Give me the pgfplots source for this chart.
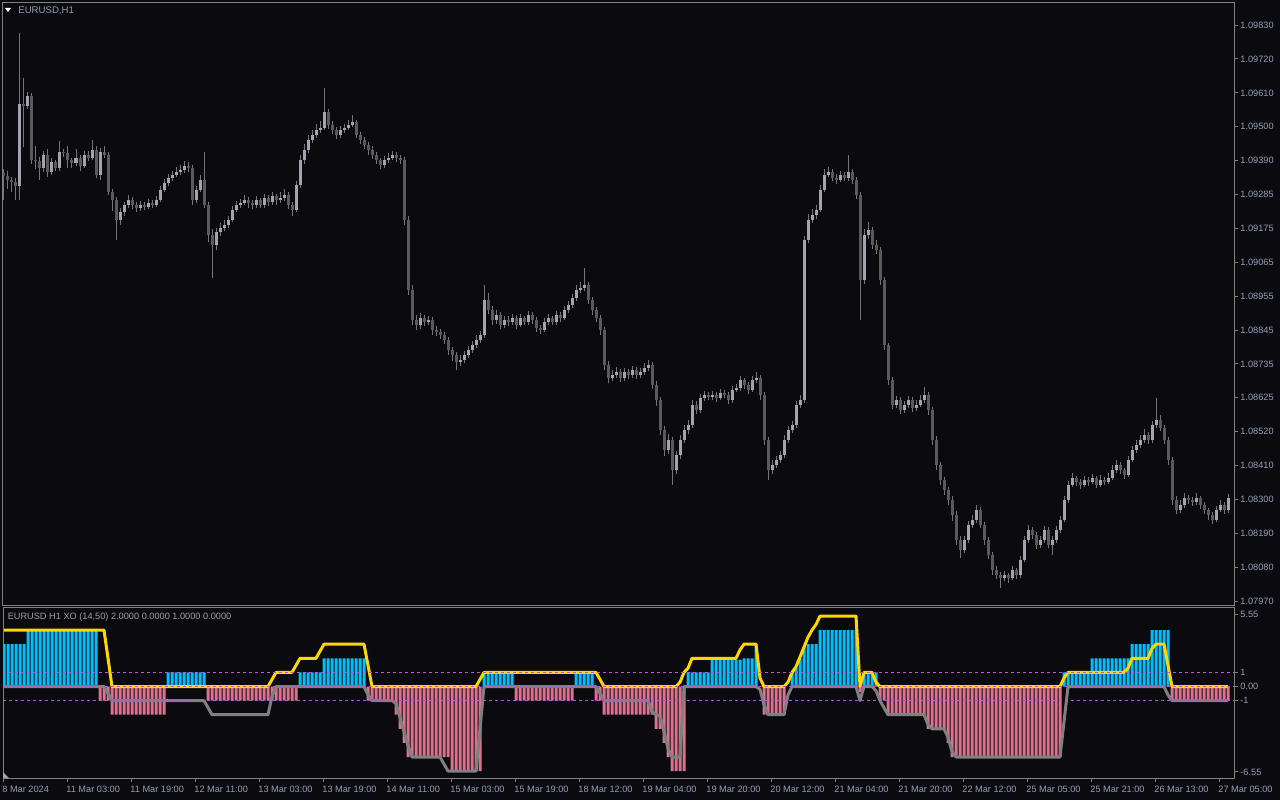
\documentclass[border=0pt]{standalone}
\usepackage{fontspec}
\setmainfont{Liberation Sans}
\usepackage{pgfplots}
\usepackage{pgfplotstable}
\pgfplotsset{compat=1.18}
\definecolor{bg}{HTML}{0A0A0F}
\definecolor{fr}{HTML}{808080}
\definecolor{lab}{HTML}{93A0B8}
\definecolor{ilab}{HTML}{A0A0A0}
\definecolor{bull}{HTML}{A4A4B0}
\definecolor{bear}{HTML}{5A5A5E}
\definecolor{wick}{HTML}{74747A}
\definecolor{hblue}{HTML}{00BFFF}
\definecolor{hpink}{HTML}{E0708E}
\definecolor{gold}{HTML}{FFD700}
\definecolor{glin}{HTML}{808080}
\definecolor{lvl}{HTML}{C050E0}
\newcommand\tf{\fontsize{4.6}{5.5}\selectfont}
% candles: price in points (1e-5): 109343 = 1.09343
\pgfplotstableread{
i o h l c
0 109352 109365 109265 109343
1 109343 109360 109300 109330
2 109330 109340 109290 109323
3 109323 109335 109265 109310
4 109310 109804 109265 109575
5 109575 109659 109436 109569
6 109569 109615 109560 109601
7 109601 109610 109380 109394
8 109394 109440 109365 109391
9 109391 109405 109330 109369
10 109369 109425 109355 109411
11 109411 109430 109340 109356
12 109356 109400 109345 109388
13 109388 109395 109360 109369
14 109369 109455 109360 109420
15 109420 109430 109405 109417
16 109417 109440 109370 109394
17 109394 109400 109370 109385
18 109385 109430 109375 109401
19 109401 109410 109360 109375
20 109375 109425 109370 109411
21 109411 109425 109390 109401
22 109401 109460 109395 109427
23 109427 109440 109335 109346
24 109346 109432 109330 109420
25 109420 109440 109400 109411
26 109411 109420 109280 109291
27 109291 109300 109230 109265
28 109265 109275 109136 109201
29 109201 109240 109185 109226
30 109226 109260 109215 109249
31 109249 109280 109240 109265
32 109265 109275 109235 109249
33 109249 109258 109228 109239
34 109239 109262 109230 109249
35 109249 109260 109232 109243
36 109243 109268 109235 109255
37 109255 109266 109240 109249
38 109249 109278 109242 109265
39 109265 109310 109258 109298
40 109298 109332 109290 109320
41 109320 109350 109312 109336
42 109336 109360 109328 109346
43 109346 109372 109338 109356
44 109356 109378 109345 109362
45 109362 109392 109352 109375
46 109375 109388 109355 109369
47 109369 109378 109250 109265
48 109265 109312 109255 109298
49 109298 109345 109290 109330
50 109330 109420 109240 109249
51 109249 109260 109130 109152
52 109152 109170 109013 109120
53 109120 109175 109105 109162
54 109162 109190 109150 109175
55 109175 109200 109165 109184
56 109184 109215 109175 109201
57 109201 109245 109195 109233
58 109233 109262 109225 109249
59 109249 109268 109240 109255
60 109255 109280 109248 109265
61 109265 109275 109240 109255
62 109255 109265 109235 109249
63 109249 109278 109240 109265
64 109265 109272 109238 109249
65 109249 109285 109240 109272
66 109272 109280 109245 109259
67 109259 109292 109250 109278
68 109278 109285 109250 109265
69 109265 109290 109255 109272
70 109272 109300 109262 109281
71 109281 109290 109235 109249
72 109249 109258 109215 109233
73 109233 109325 109225 109314
74 109314 109410 109305 109394
75 109394 109445 109380 109427
76 109427 109475 109418 109459
77 109459 109490 109448 109475
78 109475 109510 109465 109491
79 109491 109520 109480 109498
80 109498 109627 109490 109549
81 109549 109560 109495 109507
82 109507 109520 109478 109491
83 109491 109500 109462 109475
84 109475 109505 109465 109491
85 109491 109512 109482 109498
86 109498 109525 109490 109507
87 109507 109540 109500 109517
88 109517 109525 109465 109475
89 109475 109485 109445 109459
90 109459 109470 109430 109443
91 109443 109452 109412 109427
92 109427 109438 109398 109411
93 109411 109420 109380 109394
94 109394 109402 109365 109378
95 109378 109408 109370 109394
96 109394 109418 109385 109401
97 109401 109425 109395 109411
98 109411 109420 109388 109401
99 109401 109412 109380 109394
100 109394 109405 109185 109201
101 109201 109215 108960 108975
102 108975 108990 108860 108878
103 108878 108895 108845 108862
104 108862 108900 108850 108884
105 108884 108895 108858 108871
106 108871 108892 108860 108878
107 108878 108888 108830 108845
108 108845 108858 108825 108839
109 108839 108850 108815 108829
110 108829 108840 108800 108813
111 108813 108822 108765 108781
112 108781 108790 108745 108765
113 108765 108775 108716 108742
114 108742 108765 108730 108749
115 108749 108778 108738 108765
116 108765 108795 108755 108781
117 108781 108810 108772 108797
118 108797 108828 108788 108813
119 108813 108842 108805 108829
120 108829 108992 108820 108942
121 108942 108965 108898 108910
122 108910 108922 108862 108878
123 108878 108910 108865 108894
124 108894 108905 108850 108862
125 108862 108892 108852 108878
126 108878 108890 108858 108871
127 108871 108898 108862 108884
128 108884 108893 108850 108862
129 108862 108897 108855 108884
130 108884 108892 108860 108871
131 108871 108906 108862 108894
132 108894 108902 108865 108878
133 108878 108886 108840 108852
134 108852 108862 108832 108845
135 108845 108884 108838 108871
136 108871 108897 108862 108884
137 108884 108892 108860 108871
138 108871 108908 108862 108894
139 108894 108902 108872 108884
140 108884 108922 108878 108910
141 108910 108940 108900 108926
142 108926 108962 108918 108949
143 108949 108990 108940 108975
144 108975 109000 108965 108981
145 108981 109046 108972 108991
146 108991 109000 108930 108942
147 108942 108952 108895 108910
148 108910 108920 108870 108884
149 108884 108895 108830 108845
150 108845 108855 108715 108732
151 108732 108745 108675 108690
152 108690 108715 108680 108700
153 108700 108725 108690 108710
154 108710 108720 108678 108690
155 108690 108722 108682 108710
156 108710 108718 108688 108700
157 108700 108730 108692 108716
158 108716 108725 108688 108700
159 108700 108722 108690 108710
160 108710 108740 108700 108723
161 108723 108748 108712 108732
162 108732 108742 108655 108668
163 108668 108680 108600 108619
164 108619 108630 108505 108523
165 108523 108535 108440 108458
166 108458 108510 108445 108490
167 108490 108500 108345 108393
168 108393 108455 108380 108442
169 108442 108505 108430 108490
170 108490 108540 108480 108523
171 108523 108555 108510 108539
172 108539 108618 108530 108603
173 108603 108615 108575 108587
174 108587 108640 108578 108626
175 108626 108650 108615 108636
176 108636 108645 108618 108629
177 108629 108650 108620 108636
178 108636 108645 108612 108626
179 108626 108655 108618 108642
180 108642 108652 108625 108636
181 108636 108645 108605 108619
182 108619 108665 108610 108652
183 108652 108672 108645 108658
184 108658 108698 108650 108684
185 108684 108692 108655 108668
186 108668 108678 108640 108652
187 108652 108698 108645 108684
188 108684 108710 108675 108690
189 108690 108700 108620 108636
190 108636 108645 108475 108490
191 108490 108500 108361 108393
192 108393 108425 108380 108410
193 108410 108440 108400 108426
194 108426 108455 108415 108442
195 108442 108505 108432 108490
196 108490 108535 108480 108523
197 108523 108552 108512 108539
198 108539 108615 108530 108603
199 108603 108635 108595 108619
200 108619 109150 108610 109136
201 109136 109220 109125 109201
202 109201 109235 109190 109217
203 109217 109250 109205 109233
204 109233 109315 109225 109298
205 109298 109365 109290 109346
206 109346 109372 109340 109356
207 109356 109365 109325 109336
208 109336 109348 109318 109330
209 109330 109360 109322 109346
210 109346 109355 109325 109336
211 109336 109411 109328 109356
212 109356 109365 109318 109330
213 109330 109340 109270 109281
214 109281 109290 108878 109007
215 109007 109170 108995 109152
216 109152 109195 109140 109168
217 109168 109178 109108 109120
218 109120 109135 109090 109104
219 109104 109115 108990 109007
220 109007 109015 108780 108797
221 108797 108805 108668 108684
222 108684 108695 108590 108603
223 108603 108632 108592 108619
224 108619 108628 108575 108587
225 108587 108615 108578 108603
226 108603 108632 108595 108619
227 108619 108628 108582 108594
228 108594 108618 108585 108603
229 108603 108635 108596 108619
230 108619 108660 108610 108636
231 108636 108645 108572 108587
232 108587 108598 108475 108490
233 108490 108502 108395 108410
234 108410 108420 108345 108361
235 108361 108372 108312 108329
236 108329 108340 108280 108297
237 108297 108310 108230 108248
238 108248 108260 108150 108167
239 108167 108180 108110 108135
240 108135 108180 108125 108167
241 108167 108230 108158 108216
242 108216 108248 108205 108232
243 108232 108280 108222 108264
244 108264 108275 108205 108216
245 108216 108225 108152 108167
246 108167 108178 108105 108119
247 108119 108130 108055 108070
248 108070 108082 108040 108054
249 108054 108065 108012 108045
250 108045 108068 108035 108054
251 108054 108062 108030 108045
252 108045 108082 108038 108070
253 108070 108078 108040 108054
254 108054 108115 108045 108103
255 108103 108180 108095 108167
256 108167 108215 108158 108200
257 108200 108210 108170 108183
258 108183 108192 108138 108151
259 108151 108180 108140 108167
260 108167 108212 108158 108200
261 108200 108210 108140 108151
262 108151 108180 108120 108167
263 108167 108212 108158 108200
264 108200 108245 108190 108232
265 108232 108310 108225 108297
266 108297 108358 108288 108345
267 108345 108385 108338 108367
268 108367 108375 108342 108355
269 108355 108365 108332 108345
270 108345 108375 108338 108361
271 108361 108370 108342 108355
272 108355 108382 108348 108367
273 108367 108375 108335 108345
274 108345 108378 108338 108361
275 108361 108372 108345 108355
276 108355 108385 108348 108367
277 108367 108410 108360 108393
278 108393 108425 108385 108410
279 108410 108418 108380 108393
280 108393 108400 108365 108377
281 108377 108440 108370 108426
282 108426 108472 108420 108458
283 108458 108490 108448 108474
284 108474 108508 108465 108490
285 108490 108525 108482 108506
286 108506 108515 108478 108490
287 108490 108552 108482 108539
288 108539 108626 108530 108555
289 108555 108570 108518 108529
290 108529 108540 108478 108490
291 108490 108500 108410 108426
292 108426 108435 108280 108297
293 108297 108308 108250 108264
294 108264 108295 108255 108280
295 108280 108318 108272 108303
296 108303 108312 108285 108297
297 108297 108305 108278 108290
298 108290 108318 108282 108303
299 108303 108310 108268 108280
300 108280 108290 108250 108264
301 108264 108272 108232 108248
302 108248 108258 108218 108232
303 108232 108278 108225 108264
304 108264 108295 108258 108280
305 108280 108290 108252 108264
306 108264 108315 108255 108303
}\candles
% indicator: h = histogram, y = yellow line, g = gray line
\pgfplotstableread{
i h y g
0 3 4 0
1 3 4 0
2 3 4 0
3 3 4 0
4 3 4 0
5 3 4 0
6 4 4 0
7 4 4 0
8 4 4 0
9 4 4 0
10 4 4 0
11 4 4 0
12 4 4 0
13 4 4 0
14 4 4 0
15 4 4 0
16 4 4 0
17 4 4 0
18 4 4 0
19 4 4 0
20 4 4 0
21 4 4 0
22 4 4 0
23 4 4 0
24 -1 4 0
25 -1 4 0
26 -1 2 -0.5
27 -2 0 -1
28 -2 0 -1
29 -2 0 -1
30 -2 0 -1
31 -2 0 -1
32 -2 0 -1
33 -2 0 -1
34 -2 0 -1
35 -2 0 -1
36 -2 0 -1
37 -2 0 -1
38 -2 0 -1
39 -2 0 -1
40 -2 0 -1
41 1 0 -1
42 1 0 -1
43 1 0 -1
44 1 0 -1
45 1 0 -1
46 1 0 -1
47 1 0 -1
48 1 0 -1
49 1 0 -1
50 1 0 -1
51 -1 0 -1.5
52 -1 0 -2
53 -1 0 -2
54 -1 0 -2
55 -1 0 -2
56 -1 0 -2
57 -1 0 -2
58 -1 0 -2
59 -1 0 -2
60 -1 0 -2
61 -1 0 -2
62 -1 0 -2
63 -1 0 -2
64 -1 0 -2
65 -1 0 -2
66 -1 0 -2
67 -1 0.5 -0.7
68 -1 1 0
69 -1 1 0
70 -1 1 0
71 -1 1 0
72 -1 1 0
73 -1 1.5 0
74 1 2 0
75 1 2 0
76 1 2 0
77 1 2 0
78 1 2 0
79 1 2.5 0
80 2 3 0
81 2 3 0
82 2 3 0
83 2 3 0
84 2 3 0
85 2 3 0
86 2 3 0
87 2 3 0
88 2 3 0
89 2 3 0
90 2 3 0
91 -1 1.5 -0.6
92 -1 0 -1
93 -1 0 -1
94 -1 0 -1
95 -1 0 -1
96 -1 0 -1
97 -1 0 -1
98 -2 0 -1.2
99 -3 0 -2.2
100 -4 0 -3.2
101 -5 0 -4.2
102 -5 0 -5
103 -5 0 -5
104 -5 0 -5
105 -5 0 -5
106 -5 0 -5
107 -5 0 -5
108 -5 0 -5
109 -5 0 -5
110 -5 0 -5.5
111 -5 0 -6
112 -6 0 -6
113 -6 0 -6
114 -6 0 -6
115 -6 0 -6
116 -6 0 -6
117 -6 0 -6
118 -6 0 -6
119 -6 0.5 -3
120 1 1 0
121 1 1 0
122 1 1 0
123 1 1 0
124 1 1 0
125 1 1 0
126 1 1 0
127 1 1 0
128 -1 1 0
129 -1 1 0
130 -1 1 0
131 -1 1 0
132 -1 1 0
133 -1 1 0
134 -1 1 0
135 -1 1 0
136 -1 1 0
137 -1 1 0
138 -1 1 0
139 -1 1 0
140 -1 1 0
141 -1 1 0
142 -1 1 0
143 1 1 0
144 1 1 0
145 1 1 0
146 1 1 0
147 1 1 0
148 -1 1 0
149 -1 0.5 -0.5
150 -2 0 -1
151 -2 0 -1
152 -2 0 -1
153 -2 0 -1
154 -2 0 -1
155 -2 0 -1
156 -2 0 -1
157 -2 0 -1
158 -2 0 -1
159 -2 0 -1
160 -2 0 -1
161 -2 0 -1
162 -2 0 -1.8
163 -3 0 -2
164 -3 0 -2.1
165 -4 0 -3.2
166 -5 0 -4.4
167 -6 0 -5
168 -6 0 -5
169 -6 0.3 -5
170 -6 1 0
171 1 1.3 0
172 1 2 0
173 1 2 0
174 1 2 0
175 1 2 0
176 1 2 0
177 1.9 2 0
178 1.9 2 0
179 1.9 2 0
180 1.9 2 0
181 1.9 2 0
182 1.9 2 0
183 1.9 2 0
184 1.9 2.6 0
185 2 3 0
186 2 3 0
187 2 3 0
188 3 3 0
189 0 0.6 -0.2
190 -2 0 -1.3
191 -2 0 -2
192 -2 0 -2
193 -2 0 -2
194 -2 0 -2
195 -2 0 -2
196 0 0.3 -0.6
197 1 1 0
198 1.3 1.4 0
199 2 2.1 0
200 2.8 2.8 0
201 3 3.5 0
202 3 4 0
203 3 4.4 0
204 4 5 0
205 4 5 0
206 4 5 0
207 4 5 0
208 4 5 0
209 4 5 0
210 4 5 0
211 4 5 0
212 4 5 0
213 4 5 0
214 -0.4 0 -1
215 1 1 0
216 1 1 0
217 1 1 0
218 1 0.3 -0.3
219 -1 0 -1
220 -1 0 -1.5
221 -2 0 -2
222 -2 0 -2
223 -2 0 -2
224 -2 0 -2
225 -2 0 -2
226 -2 0 -2
227 -2 0 -2
228 -2 0 -2
229 -2 0 -2
230 -2 0 -2
231 -3 0 -2.7
232 -3 0 -3
233 -3 0 -3
234 -3 0 -3
235 -3 0 -3
236 -4 0 -3.6
237 -5 0 -4.6
238 -5 0 -5
239 -5 0 -5
240 -5 0 -5
241 -5 0 -5
242 -5 0 -5
243 -5 0 -5
244 -5 0 -5
245 -5 0 -5
246 -5 0 -5
247 -5 0 -5
248 -5 0 -5
249 -5 0 -5
250 -5 0 -5
251 -5 0 -5
252 -5 0 -5
253 -5 0 -5
254 -5 0 -5
255 -5 0 -5
256 -5 0 -5
257 -5 0 -5
258 -5 0 -5
259 -5 0 -5
260 -5 0 -5
261 -5 0 -5
262 -5 0 -5
263 -5 0 -5
264 -5 0 -5
265 1 0.6 -2.5
266 1 1 0
267 1 1 0
268 1 1 0
269 1 1 0
270 1 1 0
271 1 1 0
272 2 1 0
273 2 1 0
274 2 1 0
275 2 1 0
276 2 1 0
277 2 1 0
278 2 1 0
279 2 1 0
280 2 1 0
281 2 1.3 0
282 3 2 0
283 3 2 0
284 3 2 0
285 3 2 0
286 3 2 0
287 4 2.7 0
288 4 3 0
289 4 3 0
290 4 3 0
291 4 1.5 -0.6
292 -1 0 -1
293 -1 0 -1
294 -1 0 -1
295 -1 0 -1
296 -1 0 -1
297 -1 0 -1
298 -1 0 -1
299 -1 0 -1
300 -1 0 -1
301 -1 0 -1
302 -1 0 -1
303 -1 0 -1
304 -1 0 -1
305 -1 0 -1
306 -1 0 -1
}\ind
\begin{document}
\begin{tikzpicture}
\useasboundingbox (0,0) rectangle (640pt,400pt);
\fill[bg] (0,0) rectangle (640pt,400pt);
% ---------- price panel ----------
\begin{axis}[
  at={(1.5pt,97.5pt)}, anchor=south west, scale only axis,
  width=615.5pt, height=301.5pt,
  xmin=-0.25, xmax=307.5, ymin=107957.5, ymax=109904.5,
  axis line style={fr, line width=0.5pt},
  xtick=\empty,
  ytick={107970,108079.4,108188.8,108298.2,108407.6,108517.1,108626.5,108735.9,108845.3,108954.7,109064.1,109173.5,109283,109392.4,109501.8,109611.2,109720.6,109830},
  yticklabels={1.07970,1.08080,1.08190,1.08300,1.08410,1.08520,1.08625,1.08735,1.08845,1.08955,1.09065,1.09175,1.09285,1.09390,1.09500,1.09610,1.09720,1.09830},
  ytick pos=right, yticklabel pos=right, tick align=outside, major tick length=2pt,
  tick style={fr, line width=0.5pt},
  yticklabel style={font=\tf, color=lab, anchor=west, inner sep=0pt, xshift=1pt},
  scaled y ticks=false,
]
\addplot[draw=none, mark=none, error bars/.cd, y dir=plus, y explicit, error mark=none,
  error bar style={draw=wick, line width=0.5pt, solid}]
  table[x=i, y=l, y error plus expr=\thisrow{h}-\thisrow{l}] {\candles};
\addplot[draw=none, mark=none, error bars/.cd, y dir=plus, y explicit, error mark=none,
  error bar style={draw=bull, line width=1.5pt, solid, line cap=butt}]
  table[x=i, y=o, y error plus expr={max(\thisrow{c}-\thisrow{o},0)}] {\candles};
\addplot[draw=none, mark=none, error bars/.cd, y dir=plus, y explicit, error mark=none,
  error bar style={draw=bear, line width=1.5pt, solid, line cap=butt}]
  table[x=i, y=c, y error plus expr={max(\thisrow{o}-\thisrow{c},0)}] {\candles};
\end{axis}
% ---------- indicator panel ----------
\begin{axis}[
  at={(1.5pt,11pt)}, anchor=south west, scale only axis,
  width=615.5pt, height=85.5pt,
  xmin=-0.25, xmax=307.5, ymin=-6.49, ymax=5.64,
  axis line style={fr, line width=0.5pt},
  xtick={-0.25,15.75,31.75,47.75,63.75,79.75,95.75,111.75,127.75,143.75,159.75,175.75,191.75,207.75,223.75,239.75,255.75,271.75,287.75,303.75},
  xticklabels={8 Mar 2024,11 Mar 03:00,11 Mar 19:00,12 Mar 11:00,13 Mar 03:00,13 Mar 19:00,14 Mar 11:00,15 Mar 03:00,15 Mar 19:00,18 Mar 12:00,19 Mar 04:00,19 Mar 20:00,20 Mar 12:00,21 Mar 04:00,21 Mar 20:00,22 Mar 12:00,25 Mar 05:00,25 Mar 21:00,26 Mar 13:00,27 Mar 05:00},
  xtick pos=bottom, xticklabel pos=bottom,
  ytick={5.14,1,0,-1,-6.06}, yticklabels={5.55,1,0.00,-1,-6.55},
  ytick pos=right, yticklabel pos=right, tick align=outside, major tick length=2pt,
  tick style={fr, line width=0.5pt},
  yticklabel style={font=\tf, color=lab, anchor=west, inner sep=0pt, xshift=1pt},
  xticklabel style={font=\tf, color=lab, anchor=north west, inner sep=0pt, xshift=-0.5pt, yshift=-1.8pt},
]
\addplot[ybar, bar width=0.75, bar shift=0pt, fill=hblue, draw=none, restrict y to domain=0.01:20] table[x=i, y=h] {\ind};
\addplot[ybar, bar width=0.75, bar shift=0pt, fill=hpink, draw=none, restrict y to domain=-20:-0.01] table[x=i, y=h] {\ind};
\addplot[glin, line width=1.5pt, line join=round, mark=none] table[x=i, y=g] {\ind};
\addplot[gold, line width=1.5pt, line join=round, mark=none] table[x=i, y=y] {\ind};
\addplot[lvl, line width=0.5pt, dash pattern=on 1.65pt off 1.35pt, mark=none] coordinates {(-0.25,1) (307.5,1)};
\addplot[lvl, line width=0.5pt, dash pattern=on 1.65pt off 1.35pt, mark=none] coordinates {(-0.25,0) (307.5,0)};
\addplot[lvl, line width=0.5pt, dash pattern=on 1.65pt off 1.35pt, mark=none] coordinates {(-0.25,-1) (307.5,-1)};
\end{axis}
% headings
\fill[white] (2.5pt,396pt) -- (5.5pt,396pt) -- (4pt,394pt) -- cycle;
\node[anchor=west, inner sep=0pt, font=\fontsize{4.8}{5.5}\selectfont, color=lab] at (9pt,394.8pt) {EURUSD,H1};
\node[anchor=west, inner sep=0pt, font=\tf, color=ilab] at (3.7pt,91.5pt) {EURUSD H1 XO (14,50) 2.0000 0.0000 1.0000 0.0000};
\fill[fr!70] (1.5pt,11pt) -- (4.5pt,11pt) -- (1.5pt,14pt) -- cycle;
\end{tikzpicture}
\end{document}
